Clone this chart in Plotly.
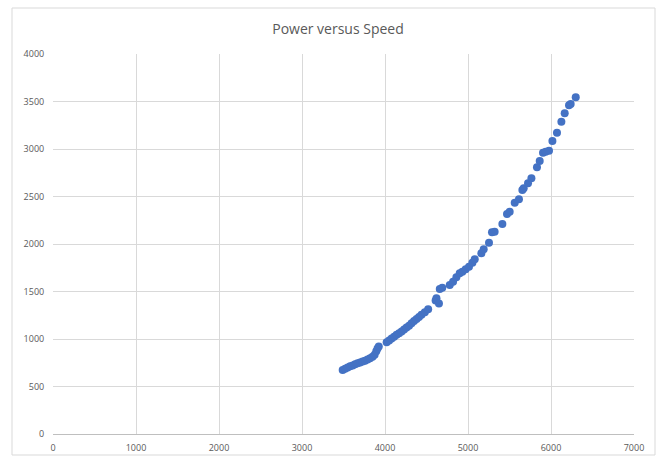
import plotly.graph_objects as go

speed = [3490, 3520, 3550, 3580, 3610, 3640, 3670, 3700, 3730, 3760, 3790, 3820, 3850,
         3875, 3895, 3910, 3925, 4020, 4050, 4080, 4110, 4140, 4170, 4200, 4230, 4260,
         4290, 4320, 4350, 4380, 4410, 4440, 4480, 4520, 4610, 4620, 4650, 4660, 4690,
         4780, 4820, 4860, 4900, 4932, 4972, 5012, 5053, 5081, 5161, 5189, 5253, 5289,
         5321, 5414, 5470, 5502, 5563, 5614, 5655, 5671, 5723, 5764, 5831, 5864, 5904,
         5936, 5976, 6017, 6072, 6125, 6165, 6217, 6237, 6298]
power = [675, 688, 700, 712, 722, 733, 744, 752, 762, 772, 784, 798, 812,
         835, 870, 900, 920, 965, 985, 1005, 1025, 1045, 1060, 1078, 1100, 1120,
         1140, 1165, 1190, 1210, 1232, 1255, 1282, 1312, 1405, 1428, 1375, 1526, 1540,
         1568, 1603, 1650, 1691, 1708, 1734, 1761, 1803, 1839, 1902, 1944, 2014, 2123,
         2130, 2210, 2316, 2340, 2435, 2470, 2568, 2586, 2639, 2692, 2807, 2874, 2961,
         2972, 2982, 3084, 3172, 3288, 3376, 3460, 3474, 3544]

title_text = "Power versus Speed"
x_ticks = [0, 1000, 2000, 3000, 4000, 5000, 6000, 7000]
y_ticks = [0, 500, 1000, 1500, 2000, 2500, 3000, 3500, 4000]

font_family = "Open Sans, Liberation Sans, sans-serif"
text_color = "#595959"
grid_color = "#d9d9d9"

fig = go.Figure()
fig.add_trace(go.Scatter(
    x=speed, y=power, mode="markers",
    marker=dict(color="#4472C4", size=8, line=dict(width=0)),
    showlegend=False,
))

L, R, T, B = 53, 33, 54, 28
W, H = 667, 462
pw, ph = W - L - R, H - T - B

fig.update_layout(
    width=W, height=H,
    margin=dict(l=L, r=R, t=T, b=B),
    paper_bgcolor="white", plot_bgcolor="white",
    title=dict(text=title_text, x=(338 - L) / pw, xref="paper", xanchor="center",
               y=1 - 29 / H, yanchor="middle",
               font=dict(family=font_family, size=14, color=text_color)),
    xaxis=dict(range=[0, 7000], tickvals=x_ticks, showgrid=True, gridcolor=grid_color,
               gridwidth=1, zeroline=False, showline=True, linecolor="#bfbfbf",
               tickfont=dict(family=font_family, size=9, color=text_color),
               ticks="outside", ticklen=5, tickcolor="rgba(0,0,0,0)", fixedrange=True,
               automargin=False),
    yaxis=dict(range=[0, 4000], tickvals=y_ticks, showgrid=True, gridcolor=grid_color,
               gridwidth=1, zeroline=False, showline=False,
               tickfont=dict(family=font_family, size=9, color=text_color),
               ticks="outside", ticklen=6, tickcolor="rgba(0,0,0,0)", fixedrange=True,
               automargin=False),
    shapes=[dict(type="rect", xref="paper", yref="paper",
                 x0=(12 - L) / pw, x1=(655 - L) / pw,
                 y0=-(455 - (H - B)) / ph, y1=((H - B) - 8) / ph,
                 line=dict(color="#d9d9d9", width=1), fillcolor="rgba(0,0,0,0)",
                 layer="below")],
)

fig.write_html("out.html", config={"displayModeBar": False},
               post_script="document.body.style.margin='0';document.body.style.overflow='hidden';")
